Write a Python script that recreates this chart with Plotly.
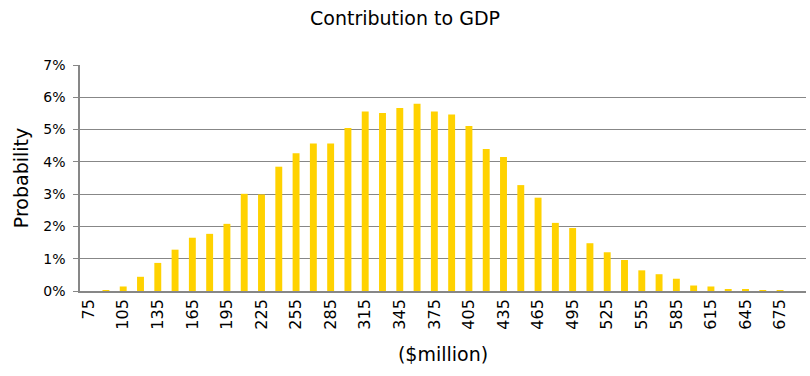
import plotly.graph_objects as go

categories = [str(v) for v in range(75, 691, 15)]
probability = [
    0.0000, 0.0003, 0.0014, 0.0044, 0.0087, 0.0128, 0.0165, 0.0177, 0.0208,
    0.0301, 0.0299, 0.0385, 0.0427, 0.0457, 0.0457, 0.0505, 0.0556, 0.0551,
    0.0567, 0.0580, 0.0556, 0.0547, 0.0511, 0.0440, 0.0415, 0.0328, 0.0289,
    0.0211, 0.0195, 0.0148, 0.0120, 0.0096, 0.0064, 0.0052, 0.0038, 0.0017,
    0.0014, 0.0006, 0.0005, 0.0002, 0.0002, 0.0000,
]
tick_labels = categories[::2]

FONT = "DejaVu Sans"
GRID = "#878787"

fig = go.Figure(go.Bar(x=categories, y=probability, marker=dict(color="#FFD200", line=dict(width=0))))

fig.update_layout(
    width=810, height=376,
    margin=dict(l=80, r=4, t=65, b=85),
    paper_bgcolor="white", plot_bgcolor="white",
    bargap=0.6,
    showlegend=False,
    font=dict(family=FONT, color="#000000"),
    title=dict(text="Contribution to GDP", x=0.5, xanchor="center", y=0.952, yanchor="middle",
               font=dict(size=19, family=FONT, color="#000000")),
)
fig.update_xaxes(
    type="category", tickmode="array", tickvals=tick_labels, ticktext=tick_labels,
    tickangle=-90, tickfont=dict(size=16, family=FONT),
    showline=True, linecolor=GRID, linewidth=1.5, showgrid=False, ticks="",
    title=dict(text="($million)", font=dict(size=19, family=FONT), standoff=19),
)
fig.update_yaxes(
    range=[0, 0.07], dtick=0.01, tickformat=".0%",
    tickfont=dict(size=14, family=FONT),
    showline=True, linecolor=GRID, linewidth=1.5,
    showgrid=True, gridcolor=GRID, gridwidth=1.2,
    ticks="outside", ticklen=5, tickcolor=GRID, ticklabelstandoff=5,
    zeroline=False,
    title=dict(text="Probability", font=dict(size=19, family=FONT), standoff=10),
)

fig.write_html("out.html")
